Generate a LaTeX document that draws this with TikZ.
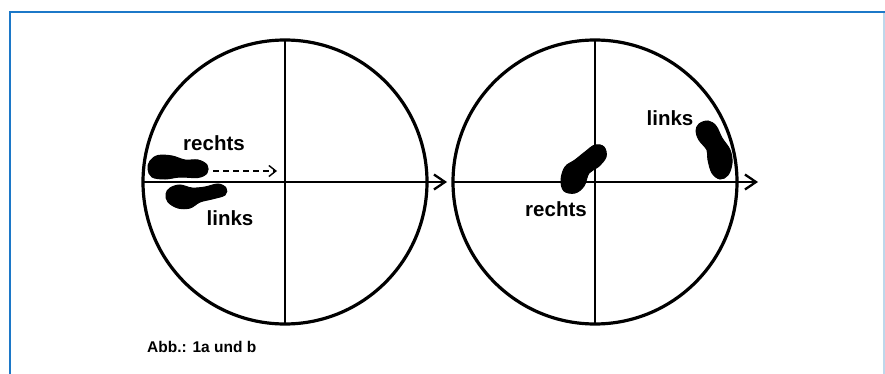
\documentclass[tikz,border=0pt]{standalone}
\usepackage{fontspec}
\setmainfont{Liberation Sans}
\usetikzlibrary{arrows.meta}
\definecolor{frameblue}{RGB}{28,120,200}
\definecolor{lightblue}{RGB}{190,215,235}
\tikzset{
  circ/.style={line width=3.2pt},
  axis/.style={line width=2.3pt},
  axtip/.style={-{Straight Barb[length=11pt,width=15pt,line width=2.3pt]}},
  blob/.style={fill=black, draw=black, line width=1pt},
  lbl/.style={font=\bfseries\fontsize{20.5}{22}\selectfont, inner sep=0pt},
  captiontext/.style={font=\bfseries\fontsize{15.5}{17}\selectfont, inner sep=0pt, anchor=west},
}
\begin{document}
\begin{tikzpicture}[x=1pt,y=-1pt]
\useasboundingbox (0,0) rectangle (885,374);
\fill[white] (0,0) rectangle (885,374);
% frame
\draw[frameblue, line width=2.4pt] (10,374) -- (10,12) -- (885,12);
\draw[lightblue, line width=1.2pt] (884,13) -- (884,374);

% left circle
\coordinate (c1) at (285,182);
\draw[circ] (c1) circle[radius=142];
\draw[axis] (285,40) -- (285,324);
\coordinate (a1s) at (143,182);
\coordinate (a1e) at (447,182);
\draw[axis,axtip] (a1s) -- (a1e);

% right circle
\coordinate (c2) at (595,182);
\draw[circ] (c2) circle[radius=142];
\draw[axis] (595,40) -- (595,324);
\coordinate (a2s) at (453,182);
\coordinate (a2e) at (758,182);
\draw[axis,axtip] (a2s) -- (a2e);

% left feet
\fill[blob] plot[smooth cycle, tension=0.6] coordinates {(150,161) (158,155.5) (172,156) (185,160) (198,160) (207,165) (207,173) (198,177.5) (180,177) (165,179) (152,177) (148,169)};
\fill[blob] plot[smooth cycle, tension=0.6] coordinates {(170,188) (180,185) (192,188) (205,187) (218,184) (226,188) (225,195) (212,199) (200,202) (190,208) (178,208) (168,202) (166,194)};
\coordinate (d1) at (213,171);
\coordinate (d2) at (277,171);
\draw[line width=1.4pt, dash pattern=on 6pt off 4pt, -{Straight Barb[length=7pt,width=11pt,line width=1.4pt]}] (d1) -- (d2);

\node[lbl] (r1) at (214,143) {rechts};
\node[lbl] (l1) at (230,218) {links};

% right feet
\fill[blob] plot[smooth cycle, tension=0.6] coordinates {(561,180) (565,167) (575,160) (585,152) (595,145) (604,147) (606,157) (598,167) (589,173) (584,186) (575,193) (564,191)};
\fill[blob] plot[smooth cycle, tension=0.6] coordinates {(699,124) (708,121) (716,126) (722,138) (730,150) (732,163) (728,175) (720,179) (712,173) (708,160) (707,150) (699,140) (696,131)};

\node[lbl] (r2) at (556,209) {rechts};
\node[lbl] (l2) at (670,118) {links};

\node[captiontext] (abb) at (147,347) {Abb.: 1a und b};
\end{tikzpicture}
\end{document}
